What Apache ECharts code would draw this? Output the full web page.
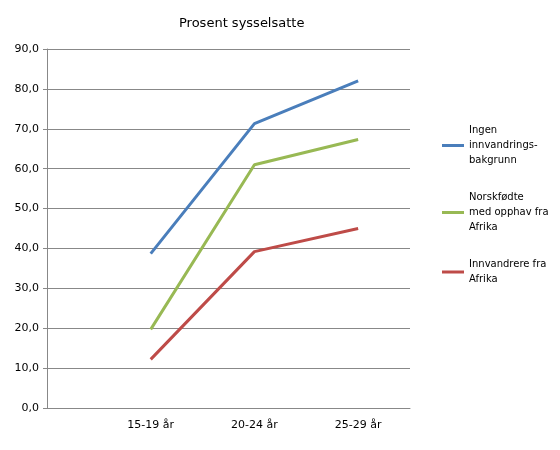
<!DOCTYPE html><html><head><meta charset="utf-8">
<script src="https://cdn.jsdelivr.net/npm/echarts@6/dist/echarts.min.js"></script>
<style>body{margin:0}#c{width:560px;height:450px}</style></head><body><div id="c"></div>
<script>
const categories=['15-19 år','20-24 år','25-29 år'];
const seriesNames=['Ingen\ninnvandrings-\nbakgrunn','Norskfødte\nmed opphav fra\nAfrika','Innvandrere fra\nAfrika'];
const ingen=[38.7,71.3,82.0];
const norskfodte=[19.7,61.0,67.3];
const innvandrere=[12.2,39.2,45.0];
const colors=['#4a7ebb','#98b954','#be4b48'];
const vals=[ingen,norskfodte,innvandrere];
const chart=echarts.init(document.getElementById('c'));
chart.setOption({
 animation:false,
 title:{text:'Prosent sysselsatte',left:174,top:12,textStyle:{fontSize:13,fontWeight:'normal',fontFamily:'DejaVu Sans',color:'#000'}},
 grid:{left:47,right:150,top:49,bottom:42},
 legend:{orient:'vertical',left:437,top:118,itemGap:22,itemWidth:22,itemHeight:3,icon:'rect',
   textStyle:{fontSize:10,fontFamily:'DejaVu Sans',color:'#000',lineHeight:15},data:seriesNames},
 xAxis:{type:'value',min:0,max:3.5,interval:0.5,
   axisLine:{lineStyle:{color:'#888'}},splitLine:{show:false},axisTick:{show:false},
   axisLabel:{fontSize:11,color:'#000',fontFamily:'DejaVu Sans',margin:12,
     formatter:v=>Number.isInteger(v)&&v>=1?categories[v-1]:''}},
 yAxis:{type:'value',min:0,max:90,interval:10,
   axisLine:{show:true,lineStyle:{color:'#888'}},axisTick:{show:true,length:4},
   splitLine:{lineStyle:{color:'#888'}},
   axisLabel:{fontSize:11,color:'#000',fontFamily:'DejaVu Sans',formatter:v=>v.toFixed(1).replace('.',',')}},
 series:seriesNames.map((n,i)=>({name:n,type:'line',symbol:'none',color:colors[i],lineStyle:{width:3},
   data:vals[i].map((v,j)=>[j+1,v])}))
});
</script></body></html>
